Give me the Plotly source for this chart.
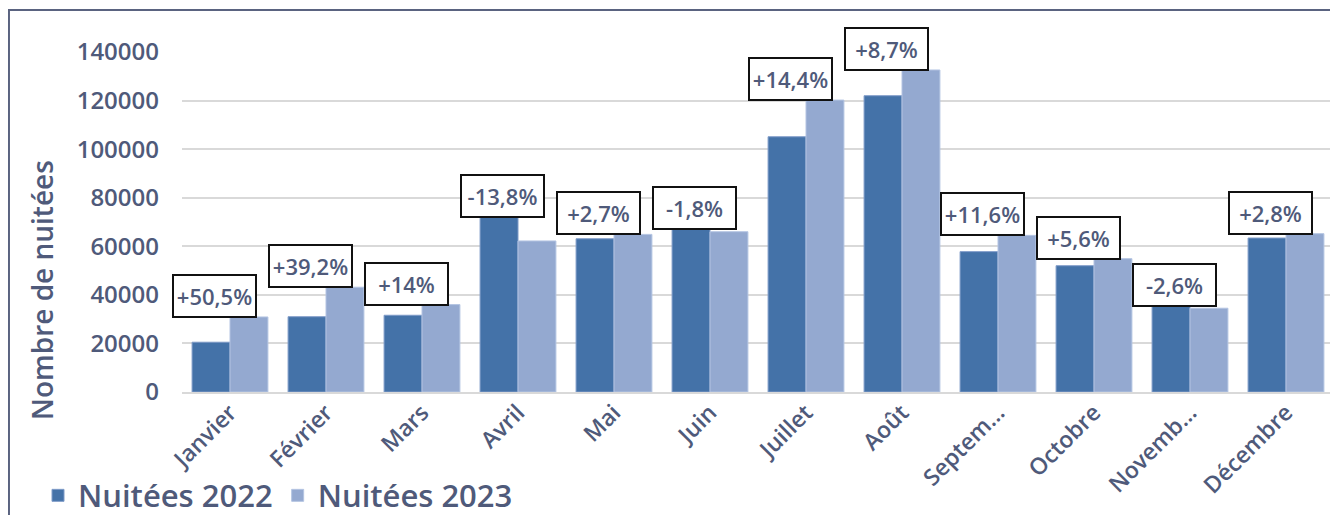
import plotly.graph_objects as go

# ---- Data ----
months = ["Janvier", "Février", "Mars", "Avril", "Mai", "Juin", "Juillet",
          "Août", "Septembre", "Octobre", "Novembre", "Décembre"]
tick_labels = ["Janvier", "Février", "Mars", "Avril", "Mai", "Juin", "Juillet",
               "Août", "Septem…", "Octobre", "Novemb…", "Décembre"]
nuitees_2022 = [20500, 31000, 31600, 72200, 63100, 67100, 105100, 122000, 57800, 52000, 35400, 63400]
nuitees_2023 = [30900, 43150, 36000, 62200, 64900, 66000, 120200, 132600, 64500, 54900, 34500, 65200]
evolution = ["+50,5%", "+39,2%", "+14%", "-13,8%", "+2,7%", "-1,8%", "+14,4%",
             "+8,7%", "+11,6%", "+5,6%", "-2,6%", "+2,8%"]
y_ticks = [0, 20000, 40000, 60000, 80000, 100000, 120000, 140000]

# ---- Style ----
FONT = "Open Sans, sans-serif"
TXT = "#4F5A7A"
C22 = "#4472A8"
C23 = "#94A9D0"

fig = go.Figure()
fig.add_trace(go.Bar(x=months, y=nuitees_2022, name="Nuitées 2022",
                     marker=dict(color=C22, line=dict(color="#7F9BC8", width=1))))
fig.add_trace(go.Bar(x=months, y=nuitees_2023, name="Nuitées 2023",
                     marker=dict(color=C23, line=dict(color="#B4C4E2", width=1))))

annotations = []
for m, a, b, t in zip(months, nuitees_2022, nuitees_2023, evolution):
    annotations.append(dict(
        x=m, y=max(a, b), xref="x", yref="y", text=t, showarrow=False,
        xanchor="center", yanchor="bottom", xshift=-16, yshift=-1,
        font=dict(family=FONT, size=22, color=TXT, weight=600),
        bgcolor="white", bordercolor="#111111", borderwidth=2, borderpad=1,
        width=79, height=38,
    ))

annotations.append(dict(
    text="Nombre de nuitées", textangle=-90, showarrow=False,
    xref="paper", yref="paper", x=-0.1215, y=0.30,
    xanchor="center", yanchor="middle",
    font=dict(family=FONT, size=28, color=TXT, weight=600),
))

fig.update_layout(
    width=1330, height=507,
    margin=dict(l=174, r=4, t=44, b=123, autoexpand=False),
    paper_bgcolor="white", plot_bgcolor="white",
    barmode="group", bargap=0.21, bargroupgap=0,
    font=dict(family=FONT, color=TXT),
    annotations=annotations,
    showlegend=True,
    legend=dict(orientation="h", x=-0.125, xanchor="left", y=-0.305, yanchor="middle",
                font=dict(family=FONT, size=31, color=TXT, weight=600),
                itemwidth=30, tracegroupgap=0, bgcolor="rgba(0,0,0,0)"),
    shapes=[dict(type="rect", xref="paper", yref="paper",
                 x0=-0.1502, x1=1.2, y0=-0.8, y1=1.1235,
                 line=dict(color="#5A6380", width=2), fillcolor="rgba(0,0,0,0)",
                 layer="below")],
)

fig.update_yaxes(range=[0, 140000], tickvals=y_ticks, ticktext=[str(v) for v in y_ticks],
                 showgrid=True, gridcolor="#D9D9D9", gridwidth=1.5,
                 zeroline=False, showline=False, ticks="", automargin=False,
                 ticklabelstandoff=22,
                 tickfont=dict(family=FONT, size=24, color=TXT, weight=600))
fig.update_xaxes(range=[-0.5, 11.5], tickvals=months, ticktext=tick_labels, tickangle=-45,
                 showline=True, linecolor="#D9D9D9", linewidth=2, ticks="",
                 showgrid=False, ticklabelstandoff=-4, automargin=False,
                 tickfont=dict(family=FONT, size=23, color=TXT, weight=600))

fig.write_html("out.html")
